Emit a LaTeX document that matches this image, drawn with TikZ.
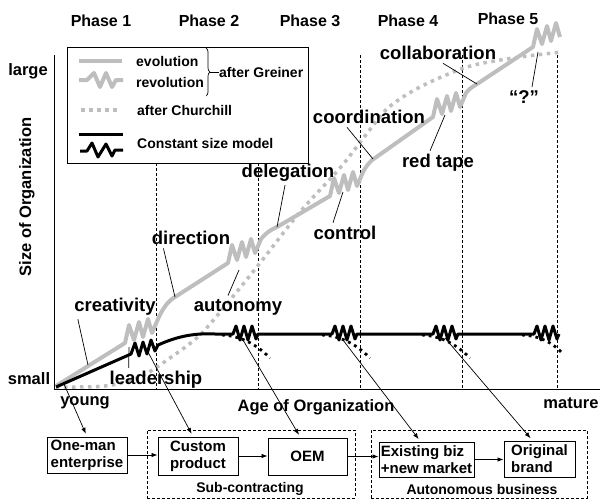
\documentclass[tikz,border=0pt]{standalone}
\usepackage{fontspec}
\setmainfont{Liberation Sans}
\usetikzlibrary{arrows.meta,decorations.pathreplacing}
\definecolor{greinergray}{RGB}{190,190,190}
\newcommand{\pxsize}[1]{\fontsize{#1}{#1}\selectfont}

\tikzset{
  evo/.style={line width=4pt, greinergray, line join=round},
  cons/.style={line width=3pt, line join=round},
  church/.style={line width=3.5pt, greinergray, dash pattern=on 3.5pt off 4.5pt},
  drop/.style={line width=2.8pt, dash pattern=on 2.8pt off 4pt},
  phaseline/.style={line width=0.9pt, dash pattern=on 3pt off 2pt},
  ptr/.style={line width=0.7pt},
  ptrarrow/.style={line width=0.7pt, -{Latex[length=6pt,width=4.5pt]}},
  stage/.style={draw, line width=1pt, align=left, inner sep=0pt, font=\bfseries\fontsize{15}{17}\selectfont},
  group/.style={draw, line width=0.8pt, dash pattern=on 3pt off 2pt, inner sep=0pt},
  crisis/.style={font=\bfseries\pxsize{18.5}},
  phase/.style={font=\bfseries\pxsize{16}},
  axislabel/.style={font=\bfseries\pxsize{16.5}},
  legendtext/.style={anchor=west, inner sep=0pt, font=\bfseries\pxsize{14}},
  grouplabel/.style={font=\bfseries\pxsize{14}}
}

\begin{document}
\begin{tikzpicture}[x=1pt, y=-1pt]
\useasboundingbox (0,0) rectangle (600,499);

% phases
\foreach \x/\n in {101/1,209/2,310/3,408/4}
  \node[phase] (phase\n) at (\x,21) {Phase \n};
\node[phase] (phase5) at (508,19) {Phase 5};
\foreach \x in {360,462,557}
  \draw[phaseline] (\x,55) -- (\x,389);
\foreach \x in {156,258}
  \draw[phaseline] (\x,163) -- (\x,389);

% axes
\draw[line width=1pt] (54,55) -- (54,389) -- (600,389);
\node[axislabel] (large) at (28,71) {large};
\node[axislabel] (small) at (29,379) {small};
\node[axislabel] (young) at (85,403) {young};
\node[axislabel] (mature) at (571,403) {mature};
\node[axislabel] (agelabel) at (316,407) {Age of Organization};
\node[axislabel, rotate=90] (sizelabel) at (27,197) {Size of Organization};

% after Churchill
\draw[church] plot[smooth] coordinates {(56,387) (105,386) (140,377) (170,358)
  (200,335) (230,300) (260,263) (300,212) (340,168) (365,136) (388,108)
  (420,87) (467,67) (513,58) (562,52)};

% after Greiner
\draw[evo] (56,386) -- (125,343)
  -- ++(4,-18) -- ++(5,15) -- ++(5,-18) -- ++(4,15) -- ++(5,-18) -- ++(4,14)
  -- ++(6,-14) .. controls (163,308) and (168,301) .. (175,297) -- (228,263)
  -- ++(4,-18) -- ++(5,15) -- ++(5,-18) -- ++(4,15) -- ++(5,-18) -- ++(4,14)
  -- ++(6,-14) .. controls (266,233) and (270,230) .. (277,227) -- (330,196)
  -- ++(4,-18) -- ++(5,15) -- ++(5,-18) -- ++(4,15) -- ++(5,-18) -- ++(4,14)
  -- ++(6,-14) .. controls (367,165) and (370,161) .. (375,158) -- (433,117)
  -- ++(4,-18) -- ++(5,15) -- ++(5,-18) -- ++(4,15) -- ++(5,-18) -- ++(4,14)
  -- ++(6,-14) .. controls (469,89) and (472,87) .. (477,84) -- (533,47)
  -- ++(4,-18) -- ++(5,15) -- ++(5,-18) -- ++(4,15) -- ++(5,-18) -- ++(4,14);

% constant size model
\draw[cons] (56,387) -- (131,354)
  -- ++(4,-11) -- ++(4,13) -- ++(4,-14) -- ++(4,12) -- ++(4,-14) -- ++(4,11) -- ++(3,-6)
  .. controls (178,336) and (195,333) .. (215,334) -- (233,334)
  -- ++(3,-8) -- ++(4,14) -- ++(4,-14) -- ++(4,14) -- ++(4,-14) -- ++(4,13) -- ++(2,-5)
  -- (332,334)
  -- ++(3,-8) -- ++(4,14) -- ++(4,-14) -- ++(4,14) -- ++(4,-14) -- ++(4,13) -- ++(2,-5)
  -- (433,334)
  -- ++(3,-8) -- ++(4,14) -- ++(4,-14) -- ++(4,14) -- ++(4,-14) -- ++(4,13) -- ++(2,-5)
  -- (534,334)
  -- ++(3,-8) -- ++(4,14) -- ++(4,-14) -- ++(4,14) -- ++(4,-14) -- ++(4,13) -- ++(2,-5);
\foreach \dx in {0,100,200}
  \draw[drop] ({222+\dx},335) .. controls ({240+\dx},336) and ({255+\dx},343) .. ({270+\dx},358);
\draw[drop] (522,335) .. controls (540,336) and (552,342) .. (563,354);

% crises
\node[crisis] (creativity) at (115,307) {creativity};
\node[crisis] (leadership) at (156,380) {leadership};
\node[crisis] (direction) at (191,238) {direction};
\node[crisis] (autonomy) at (238,307) {autonomy};
\node[crisis] (delegation) at (288,173) {delegation};
\node[crisis] (control) at (345,233) {control};
\node[crisis] (coordination) at (369,117) {coordination};
\node[crisis] (redtape) at (438,163) {red tape};
\node[crisis] (collab) at (438,53) {collaboration};
\node[crisis] (question) at (524,97) {“?”};

\coordinate (onCreativity) at (88,365);
\coordinate (onLeadership) at (129,347);
\coordinate (onDirection) at (175,297);
\coordinate (onAutonomy) at (239,270);
\coordinate (onDelegation) at (277,227);
\coordinate (onControl) at (343,192);
\coordinate (onCoordination) at (373,159);
\coordinate (onRedtape) at (445,115);
\coordinate (onCollab) at (477,84);
\coordinate (onQuestion) at (538,52);

\draw[ptr] ([xshift=7pt]creativity.south west) -- (onCreativity);
\draw[ptr] ([xshift=22.5pt]leadership.north west) -- (onLeadership);
\draw[ptr] ([xshift=15pt]direction.south west) -- (onDirection);
\draw[ptr] ([xshift=-10pt]autonomy.north) -- (onAutonomy);
\draw[ptr] ([xshift=-3pt]delegation.south) -- (onDelegation);
\draw[ptr] ([xshift=-12pt]control.north) -- (onControl);
\draw[ptr] ([xshift=-22pt]coordination.south) -- (onCoordination);
\draw[ptr] ([xshift=-8pt]redtape.north) -- (onRedtape);
\draw[ptr] ([xshift=5pt]collab.south) -- (onCollab);
\draw[ptr] ([xshift=8pt]question.north) -- (onQuestion);

% legend
\node[draw, fill=white, line width=0.9pt, minimum width=241pt, minimum height=116pt, inner sep=0pt] (legend) at (187.5,105) {};
\draw[evo] (79,61) -- (122,61);
\draw[evo] (79,80) -- (87,80) -- (94,73) -- (100,87) -- (106,73) -- (112,87) -- (116,80) -- (123,80);
\draw[church] (81,110) -- (121,110);
\draw[cons] (79,134) -- (123,134);
\draw[cons] (80,151) -- (87,151) -- (92,143) -- (98,157) -- (106,144) -- (112,156) -- (115,150) -- (123,150);
\node[legendtext] (evolution) at (136,61) {evolution};
\node[legendtext] (revolution) at (136,82) {revolution};
\node[legendtext] (churchill) at (137,110) {after Churchill};
\node[legendtext] (constant) at (137,143) {Constant size model};
\draw[line width=0.7pt, decorate, decoration={brace, amplitude=4pt}] (206,48) -- (206,96);
\coordinate (bracetip) at (210,72);
\node[legendtext] (greiner) at (219,72) {after Greiner};
\draw[line width=0.7pt] (bracetip) -- (greiner.west);

% stages
\node[group, minimum width=208pt, minimum height=68pt] (subgroup) at (251,464) {};
\node[group, minimum width=216pt, minimum height=68pt] (autogroup) at (479,464) {};
\node[grouplabel] (sublabel) at (250,489) {Sub-contracting};
\node[grouplabel] (autolabel) at (482,489) {Autonomous business};

\node[stage, minimum width=80pt, minimum height=36pt] (oneman) at (87,455) {One-man\\enterprise};
\node[stage, minimum width=80pt, minimum height=38pt] (custom) at (198,456) {Custom\\product};
\node[stage, minimum width=79pt, minimum height=37pt] (oem) at (307.5,456.5) {OEM};
\node[stage, minimum width=95pt, minimum height=35pt] (existing) at (426.5,459.5) {Existing biz\\+new market};
\node[stage, minimum width=71pt, minimum height=36pt] (original) at (539.5,459) {Original\\brand};

\draw[ptrarrow] (oneman.east) -- (oneman.east -| custom.west);
\draw[ptrarrow] (custom.east) -- (custom.east -| oem.west);
\draw[ptrarrow] (oem.east) -- (oem.east -| existing.west);
\draw[ptrarrow] (existing.east) -- (existing.east -| original.west);

\coordinate (fromYoung) at (64,384);
\coordinate (fromLeader) at (148,352);
\coordinate (fromOEM) at (243,340);
\coordinate (fromExisting) at (343,340);
\coordinate (fromOriginal) at (445,338);
\draw[ptrarrow, shorten >=3pt] (fromYoung) -- (oneman.north);
\draw[ptrarrow, shorten >=3pt] (fromLeader) -- ([xshift=-5pt]custom.north);
\draw[ptrarrow, shorten >=3pt] (fromOEM) -- ([xshift=-7pt]oem.north);
\draw[ptrarrow, shorten >=3pt] (fromExisting) -- ([xshift=-6pt]existing.north);
\draw[ptrarrow, shorten >=3pt] (fromOriginal) -- ([xshift=-7pt]original.north);
\end{tikzpicture}
\end{document}
